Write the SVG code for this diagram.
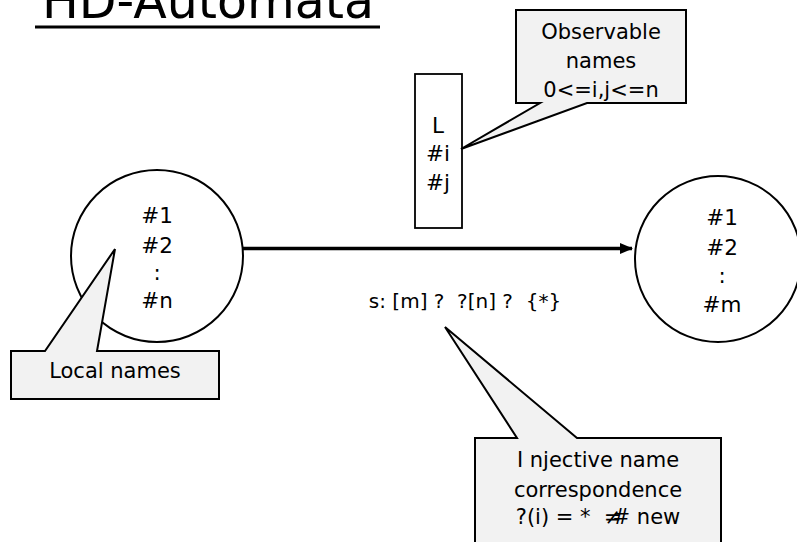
<svg xmlns="http://www.w3.org/2000/svg" width="797" height="542" viewBox="0 0 797 542">
<style>
text{font-family:"DejaVu Sans","Liberation Sans",sans-serif;fill:#000;text-anchor:middle}
.t{font-size:21.5px}
.c{font-size:21px}
.state{fill:#fff;stroke:#000;stroke-width:2}
.callout{fill:#f2f2f2;stroke:#000;stroke-width:2;stroke-linejoin:miter}
.box{fill:#fff;stroke:#000;stroke-width:1.8}
</style>
<defs>
<marker id="ah" markerWidth="13" markerHeight="11" refX="12" refY="5.5" orient="auto" markerUnits="userSpaceOnUse">
<path d="M0,0 L13,5.5 L0,11 Z" fill="#000"/>
</marker>
</defs>
<rect width="797" height="542" fill="#fff"/>
<g id="title">
<text x="208" y="18" style="font-size:49px">HD-Automata</text>
<line x1="35" y1="27" x2="380" y2="27" stroke="#000" stroke-width="3"/>
</g>
<g id="connectors">
<line x1="243" y1="248.5" x2="632" y2="248.5" stroke="#000" stroke-width="3.5" marker-end="url(#ah)"/>
<text x="465" y="308" style="font-size:20px" xml:space="preserve">s: [m] ?  ?[n] ?  {*}</text>
</g>
<g id="state-left">
<circle class="state" cx="157" cy="256" r="86"/>
<text class="t" x="157" y="223">#1</text>
<text class="t" x="157" y="253">#2</text>
<text class="t" x="157" y="280">:</text>
<text class="t" x="157" y="308">#n</text>
</g>
<g id="state-right">
<circle class="state" cx="718" cy="259" r="83"/>
<text class="t" x="722" y="225">#1</text>
<text class="t" x="722" y="255">#2</text>
<text class="t" x="722" y="283">:</text>
<text class="t" x="722" y="312">#m</text>
</g>
<g id="label-box">
<rect class="box" x="415" y="74" width="47" height="154"/>
<text class="t" x="438" y="133">L</text>
<text class="t" x="438" y="161">#i</text>
<text class="t" x="438" y="190">#j</text>
</g>
<g id="callout-observable">
<path class="callout" d="M516,10 H686 V103 H587 L461,149 L540,103 H516 Z"/>
<text class="c" x="601" y="39">Observable</text>
<text class="c" x="601" y="68">names</text>
<text class="c" x="601" y="97">0&lt;=i,j&lt;=n</text>
</g>
<g id="callout-local">
<path class="callout" d="M11,351 H45 L115,249 L97,351 H219 V399 H11 Z"/>
<text class="c" x="115" y="378">Local names</text>
</g>
<g id="callout-injective">
<path class="callout" d="M475,438 H517 L445,327 L577,438 H721 V560 H475 Z"/>
<text class="c" x="598" y="467" xml:space="preserve">I njective name</text>
<text class="c" x="598" y="497">correspondence</text>
<text class="c" x="598" y="524" xml:space="preserve">?(i) = *  ≠<tspan dx="-9">#</tspan> new</text>
</g>
</svg>
